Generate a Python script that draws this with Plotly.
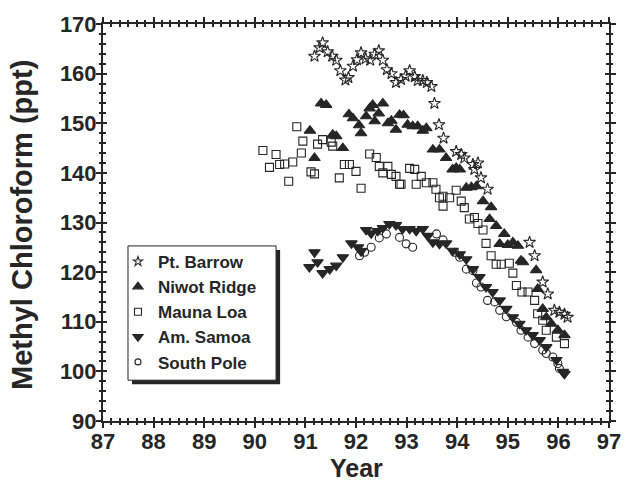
import plotly.graph_objects as go

# Pt. Barrow
barrow_x = [91.18, 91.28, 91.34, 91.44, 91.53, 91.61, 91.69, 91.79, 91.85, 91.94, 92.02, 92.10, 92.19, 92.28,
            92.37, 92.45, 92.53, 92.61, 92.70, 92.79, 92.89, 92.98, 93.06, 93.16, 93.22, 93.32, 93.40, 93.49,
            93.55, 93.64, 93.73, 93.98, 94.08, 94.14, 94.31, 94.34, 94.41, 94.47, 94.60, 95.43, 95.53, 95.69,
            95.79, 95.92, 96.02, 96.12, 96.18]
barrow_y = [163.5, 165.2, 166.2, 164.4, 163.5, 162.7, 160.6, 158.7, 159.2, 161.5, 162.8, 164.2, 163.0, 162.7,
            163.9, 164.6, 162.7, 160.8, 160.0, 158.2, 158.8, 159.5, 160.6, 159.4, 158.6, 158.6, 158.2, 157.4,
            154.0, 149.7, 147.0, 144.3, 143.7, 143.0, 141.7, 140.7, 142.0, 139.0, 136.7, 126.0, 123.3, 118.0,
            115.6, 112.3, 111.9, 111.5, 110.9]

# Niwot Ridge
niwot_x = [91.09, 91.18, 91.31, 91.41, 91.54, 91.61, 91.74, 91.86, 91.94, 92.06, 92.10, 92.20, 92.27, 92.33,
           92.37, 92.45, 92.53, 92.63, 92.70, 92.79, 92.86, 92.94, 93.02, 93.12, 93.22, 93.32, 93.39, 93.52,
           93.65, 93.78, 93.91, 93.98, 94.05, 94.18, 94.28, 94.38, 94.51, 94.64, 94.67, 94.77, 94.84, 94.93,
           95.00, 95.10, 95.20, 95.26, 95.30, 95.56, 95.59, 95.69, 95.76, 95.86, 95.99, 96.12]
niwot_y = [148.5, 143.0, 154.0, 153.7, 147.7, 147.4, 145.0, 151.8, 151.0, 149.6, 148.0, 151.4, 153.0, 153.7,
           150.4, 152.0, 154.0, 150.0, 150.5, 148.7, 151.7, 151.6, 149.7, 149.4, 149.4, 148.5, 149.0, 144.7,
           144.7, 143.0, 140.7, 141.0, 140.7, 137.0, 137.1, 137.3, 134.3, 130.7, 133.1, 129.3, 125.7, 127.7,
           125.5, 126.0, 125.3, 122.3, 122.0, 120.4, 116.6, 112.6, 110.9, 109.6, 108.3, 107.3]

# Mauna Loa
mauna_x = [90.16, 90.29, 90.42, 90.49, 90.59, 90.67, 90.75, 90.83, 90.92, 90.95, 91.11, 91.18, 91.24, 91.34,
           91.51, 91.54, 91.67, 91.77, 91.87, 92.00, 92.10, 92.27, 92.40, 92.46, 92.53, 92.63, 92.70, 92.79,
           92.86, 92.89, 93.06, 93.16, 93.19, 93.29, 93.39, 93.52, 93.58, 93.65, 93.72, 93.72, 93.85, 93.98,
           94.08, 94.14, 94.24, 94.34, 94.41, 94.51, 94.57, 94.67, 94.77, 94.87, 95.03, 95.10, 95.17, 95.28,
           95.40, 95.53, 95.59, 95.69, 95.76, 95.96, 96.12]
mauna_y = [144.5, 141.1, 143.7, 141.7, 141.8, 138.3, 142.2, 149.3, 144.0, 146.4, 140.2, 139.8, 145.8, 146.7,
           146.2, 145.4, 139.0, 141.7, 141.7, 140.3, 136.9, 143.8, 143.1, 141.3, 140.0, 141.3, 139.7, 139.3,
           137.7, 137.7, 140.9, 140.7, 137.7, 139.3, 138.0, 138.0, 136.7, 135.0, 135.3, 133.3, 135.0, 136.5,
           134.3, 133.0, 130.7, 131.0, 129.8, 128.5, 125.8, 123.3, 121.6, 121.6, 121.8, 119.8, 117.3, 116.0,
           116.0, 114.3, 111.6, 110.3, 108.3, 106.9, 105.6]

# Am. Samoa
samoa_x = [91.08, 91.18, 91.24, 91.34, 91.48, 91.61, 91.74, 91.91, 92.04, 92.10, 92.20, 92.30, 92.43, 92.53,
           92.66, 92.79, 92.92, 93.06, 93.19, 93.32, 93.42, 93.52, 93.65, 93.78, 93.91, 94.05, 94.18, 94.31,
           94.44, 94.57, 94.70, 94.84, 94.97, 95.10, 95.23, 95.36, 95.49, 95.63, 95.76, 95.96, 96.09, 96.12]
samoa_y = [121.0, 124.0, 122.0, 119.8, 120.6, 121.3, 123.0, 125.8, 125.0, 124.2, 128.5, 127.8, 128.3, 128.9,
           129.7, 129.5, 128.7, 128.7, 128.3, 128.7, 127.3, 126.0, 125.7, 125.8, 124.3, 123.6, 122.6, 120.6,
           119.0, 117.0, 116.0, 114.3, 112.6, 110.9, 109.6, 108.3, 107.3, 106.3, 104.9, 102.3, 99.9, 99.5]

# South Pole
pole_x = [92.07, 92.17, 92.30, 92.46, 92.60, 92.86, 92.99, 93.12, 93.59, 93.72, 93.95, 94.05, 94.18, 94.31,
          94.38, 94.47, 94.60, 94.74, 94.84, 94.97, 95.17, 95.26, 95.40, 95.53, 95.69, 95.76, 95.89, 95.99, 96.02]
pole_y = [123.3, 124.0, 125.0, 126.9, 127.7, 127.0, 125.7, 125.0, 127.7, 126.5, 124.0, 123.0, 120.6, 120.3,
          117.8, 117.0, 114.3, 114.0, 112.3, 111.0, 109.9, 108.3, 106.9, 105.6, 104.3, 103.6, 102.9, 101.6, 100.6]

x_ticks = list(range(87, 98))
y_ticks = list(range(90, 171, 10))
x_range = [87, 97]
y_range = [90, 170]

ink = "#262626"
FONT = "Liberation Sans"

series = [
    ("Pt. Barrow", barrow_x, barrow_y, "star-open", 9, 7),
    ("Niwot Ridge", niwot_x, niwot_y, "triangle-up", 10, 9),
    ("Mauna Loa", mauna_x, mauna_y, "square-open", 8, 7),
    ("Am. Samoa", samoa_x, samoa_y, "triangle-down", 10, 9),
    ("South Pole", pole_x, pole_y, "circle-open", 8, 6),
]

fig = go.Figure()
for name, xs, ys, sym, sz, lsz in series:
    fig.add_trace(go.Scatter(
        x=xs, y=ys, mode="markers", name=name, showlegend=False, legendgroup=name,
        marker=dict(symbol=sym, size=sz, color=ink, line=dict(color=ink, width=1.1)),
    ))
for name, xs, ys, sym, sz, lsz in series:
    fig.add_trace(go.Scatter(
        x=[None], y=[None], mode="markers", name=name, legendgroup=name,
        marker=dict(symbol=sym, size=lsz, color=ink, line=dict(color=ink, width=1.1)),
    ))
# empty trace so the overlay axes (outer tick halves) get drawn
fig.add_trace(go.Scatter(x=[None], y=[None], xaxis="x2", yaxis="y2", showlegend=False, hoverinfo="skip"))

inner = dict(
    showline=True, linecolor=ink, linewidth=2, mirror="allticks",
    ticks="inside", ticklen=4, tickwidth=1.5, tickcolor=ink,
    showgrid=False, zeroline=False,
    tickfont=dict(family=FONT, size=22, color=ink, weight="bold"),
)
outer = dict(
    showline=False, mirror="allticks", ticks="outside", ticklen=6, tickwidth=1.5, tickcolor=ink,
    showgrid=False, zeroline=False, showticklabels=False,
)

fig.update_layout(
    width=633, height=489,
    margin=dict(l=103, r=24, t=22, b=68),
    paper_bgcolor="white", plot_bgcolor="white",
    xaxis=dict(range=x_range, tickvals=x_ticks, ticktext=[str(v) for v in x_ticks],
               minor=dict(dtick=1/6, tick0=87, ticklen=3, tickcolor=ink, ticks="inside"),
               **inner),
    yaxis=dict(range=y_range, tickvals=y_ticks, ticktext=[str(v) for v in y_ticks],
               minor=dict(dtick=2, tick0=90, ticklen=3, tickcolor=ink, ticks="inside"),
               **inner),
    xaxis2=dict(range=x_range, tickvals=x_ticks, overlaying="x", anchor="y2", side="bottom",
                minor=dict(dtick=1/6, tick0=87, ticklen=3, tickcolor=ink, ticks="outside"), **outer),
    yaxis2=dict(range=y_range, tickvals=y_ticks, overlaying="y", anchor="x2", side="left",
                minor=dict(dtick=2, tick0=90, ticklen=3, tickcolor=ink, ticks="outside"), **outer),
    legend=dict(x=0.0296, y=0.446, xanchor="left", yanchor="top",
                bgcolor="rgba(0,0,0,0)", borderwidth=0,
                font=dict(family=FONT, size=17, color=ink, weight="bold"),
                itemsizing="trace", itemwidth=30, tracegroupgap=0),
    showlegend=True,
    annotations=[
        dict(text="Year", xref="paper", yref="paper", x=0.5, y=-0.119, xanchor="center", yanchor="middle",
             showarrow=False, font=dict(family=FONT, size=25, color=ink, weight="bold")),
        dict(text="Methyl Chloroform (ppt)", xref="paper", yref="paper", x=-0.160, y=0.494,
             xanchor="center", yanchor="middle", textangle=-90,
             showarrow=False, font=dict(family=FONT, size=29, color=ink, weight="bold")),
    ],
    shapes=[
        dict(type="rect", xref="paper", yref="paper", x0=0.0573, x1=0.350, y0=0.0927, y1=0.431,
             fillcolor=ink, line=dict(width=0), layer="above"),
        dict(type="rect", xref="paper", yref="paper", x0=0.0494, x1=0.342, y0=0.1028, y1=0.441,
             fillcolor="white", line=dict(color=ink, width=1), layer="above"),
    ],
)

fig.write_html("out.html")
